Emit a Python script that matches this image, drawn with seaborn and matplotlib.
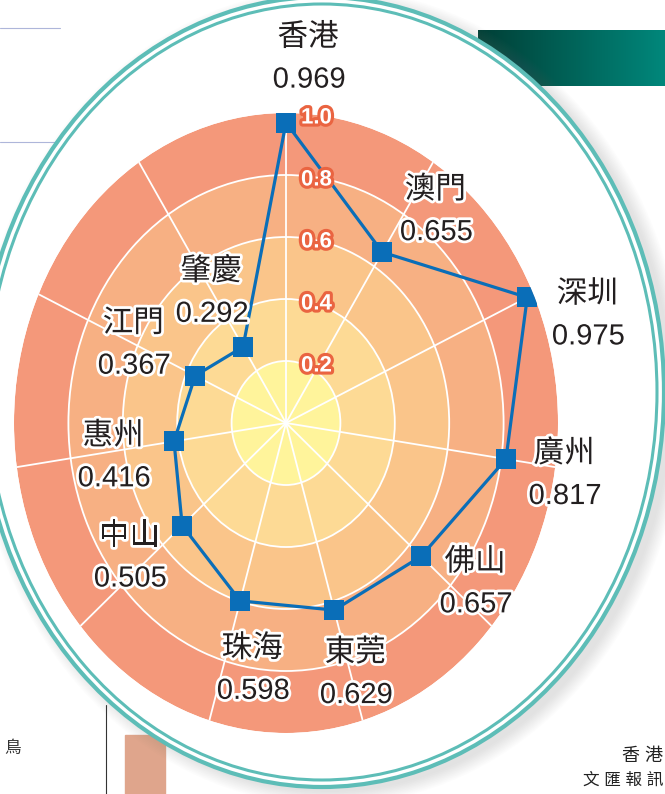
import matplotlib
matplotlib.use("Agg")
import matplotlib.pyplot as plt
import matplotlib.patheffects as pe
from matplotlib.patches import Ellipse, Rectangle
from matplotlib.transforms import ScaledTranslation
from matplotlib import font_manager
import numpy as np
import pandas as pd
import seaborn as sns

# data, clockwise from the top
cities = ["香港", "澳門", "深圳", "廣州", "佛山", "東莞", "珠海", "中山", "惠州", "江門", "肇慶"]
scores = [0.969, 0.655, 0.975, 0.817, 0.657, 0.629, 0.598, 0.505, 0.416, 0.367, 0.292]
ring_ticks = [0.2, 0.4, 0.6, 0.8, 1.0]
ring_colors = ["#FFF49B", "#FDDA95", "#FAC58A", "#F7B083", "#F4987A"]
# label offsets from each marker (pixels, centre of the two-line block)
label_offsets = [(22, 64), (53, 41), (60, -18), (58, -16), (54, -27), (21, -64),
                 (12, -69), (-53, -32), (-61, -16), (-62, 31), (-32, 54)]

names = {f.name for f in font_manager.fontManager.ttflist}
latin = "Liberation Sans Narrow" if "Liberation Sans Narrow" in names else "Liberation Sans"
fonts = [latin, "Noto Sans CJK TC", "DejaVu Sans"]

sns.set_style("white")
plt.rcParams['font.family'] = fonts

W, H = 665, 794
fig = plt.figure(figsize=(W / 100, H / 100), dpi=100)
fig.patch.set_facecolor("white")

# page background, frame ellipse
bg = fig.add_axes([0, 0, 1, 1])
bg.set_xlim(0, W)
bg.set_ylim(H, 0)
bg.axis("off")

grad = np.linspace(0, 1, 200).reshape(1, -1)
cmap = matplotlib.colors.LinearSegmentedColormap.from_list("band", ["#003F36", "#00877B"])
bg.imshow(grad, extent=(478, 665, 86, 30), cmap=cmap, aspect="auto", zorder=1)
for yy in (28, 142):
    bg.plot([0, 60], [yy, yy], color="#AEB6DA", lw=0.8, zorder=1)
bg.plot([106, 106], [705, 794], color="#333333", lw=0.8, zorder=1)
bg.add_patch(Rectangle((125, 735), 40, 60, color="#DFA58C", zorder=1))
bg.text(4, 748, "鳥", fontsize=12, color="#333333", va="center", zorder=1)
bg.text(663, 757, "香 港", fontsize=13, color="#222222", ha="right", va="center", zorder=1)
bg.text(663, 780, "文 匯 報 訊", fontsize=12, color="#222222", ha="right", va="center", zorder=1)

cx, cy, a, b = 322, 392, 342, 395
for k in range(10):
    bg.add_patch(Ellipse((cx + 8, cy + 5), 2 * a + 3 * k, 2 * b + 3 * k,
                         facecolor="#808080", edgecolor="none", alpha=0.02, zorder=2))
bg.add_patch(Ellipse((cx, cy), 2 * a, 2 * b, facecolor="white", edgecolor="#5DBDB7",
                     lw=3.0, zorder=3))
bg.add_patch(Ellipse((cx, cy), 2 * a - 14, 2 * b - 14, facecolor="none",
                     edgecolor="#5DBDB7", lw=2.2, zorder=3))

# radar
ax = fig.add_axes([14 / W, (H - 733) / H, 544 / W, 620 / H], projection="polar")
ax.set_aspect("auto")
ax.patch.set_alpha(0)
ax.set_theta_zero_location("N")
ax.set_theta_direction(-1)

theta = np.linspace(0, 2 * np.pi, len(cities), endpoint=False)
lo = 0
for r, c in zip(ring_ticks, ring_colors):
    ax.bar(0, r - lo, width=2 * np.pi, bottom=lo, color=c, align="edge", linewidth=0)
    lo = r

df = pd.DataFrame({"theta": np.append(theta, theta[0]), "score": scores + [scores[0]]})
sns.lineplot(data=df, x="theta", y="score", ax=ax, sort=False, estimator=None,
             color="#0A6EB8", linewidth=2.3, marker="s", markersize=15,
             markeredgewidth=0, zorder=5)

ax.set_ylim(0, 1.0)
ax.set_xticks(theta)
ax.set_yticks(ring_ticks[:-1])
ax.set_xticklabels([])
ax.set_yticklabels([])
ax.set_xlabel("")
ax.set_ylabel("")
ax.set_axisbelow("line")
ax.grid(True, color="white", linewidth=1.3)
ax.spines["polar"].set_visible(False)

shift = ax.transData + ScaledTranslation(15 / 100, -5 / 100, fig.dpi_scale_trans)
for r in ring_ticks:
    ax.text(0, r, f"{r:.1f}", transform=shift, ha="left", va="center",
            fontsize=16, fontweight="bold", color="white", zorder=6,
            path_effects=[pe.withStroke(linewidth=4.5, foreground="#EA6441")])

halo = [pe.withStroke(linewidth=4, foreground="white")]
for t, v, name, (dx, dy) in zip(theta, scores, cities, label_offsets):
    ax.annotate(name, xy=(t, v), xytext=(dx, dy + 21), textcoords="offset pixels",
                ha="center", va="center", fontsize=22, color="#231F20",
                zorder=7, path_effects=halo)
    ax.annotate(f"{v:.3f}", xy=(t, v), xytext=(dx + 1, dy - 21), textcoords="offset pixels",
                ha="center", va="center", fontsize=21, color="#231F20",
                zorder=7, path_effects=halo)

fig.savefig("out.png", dpi=100)
